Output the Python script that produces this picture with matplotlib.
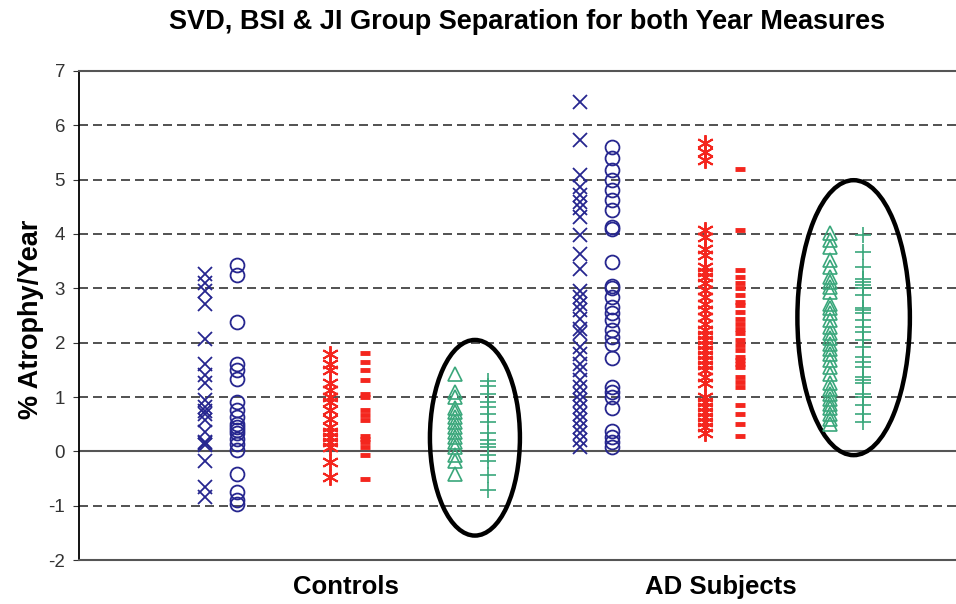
import matplotlib
matplotlib.use('AGG')
import matplotlib.pyplot as plt
from matplotlib.patches import Ellipse
import numpy as np

plt.rcParams['font.family'] = ['Liberation Sans', 'DejaVu Sans']
plt.rcParams['axes.unicode_minus'] = False

groups = ['Controls', 'AD Subjects']

# % atrophy/year, one list per column
ctl_svd_x = [3.26, 3.09, 2.95, 2.72, 2.07, 1.61, 1.40, 1.25, 0.94, 0.82, 0.69, 0.57,
             0.36, 0.17, 0.11, 0.15, 0.75, -0.17, -0.66, -0.84]
ctl_svd_o = [3.43, 3.24, 2.38, 1.61, 1.49, 1.34, 0.91, 0.76, 0.63, 0.51, 0.45, 0.39,
             0.33, 0.23, 0.14, 0.02, -0.41, -0.75, -0.90, -0.96]
ctl_bsi_a = [1.80, 1.60, 1.49, 1.25, 1.12, 1.00, 0.91, 0.76, 0.60, 0.45, 0.36, 0.26,
             0.17, 0.08, -0.20, -0.48]
ctl_bsi_d = [1.81, 1.65, 1.49, 1.32, 1.06, 1.00, 0.76, 0.66, 0.57, 0.29, 0.23, 0.17,
             0.08, -0.07, -0.50]
ctl_ji_t = [1.43, 1.09, 1.00, 0.79, 0.72, 0.63, 0.54, 0.45, 0.36, 0.26, 0.17, 0.08,
            -0.07, -0.17, -0.41]
ctl_ji_p = [1.30, 1.20, 1.06, 0.91, 0.82, 0.69, 0.54, 0.33, 0.20, 0.14, 0.08, -0.07,
            -0.17, -0.44, -0.72]

ad_svd_x = [6.43, 5.73, 5.08, 4.87, 4.71, 4.59, 4.47, 4.31, 3.98, 3.64, 3.36, 2.96,
            2.84, 2.72, 2.60, 2.44, 2.25, 2.17, 1.92, 1.80, 1.61, 1.49, 1.31, 1.18,
            1.06, 0.94, 0.82, 0.69, 0.57, 0.45, 0.33, 0.20, 0.08]
ad_svd_o = [5.60, 5.39, 5.17, 4.99, 4.81, 4.62, 4.44, 4.13, 4.10, 3.49, 3.05, 3.00,
            2.84, 2.66, 2.54, 2.41, 2.23, 2.11, 1.98, 1.71, 1.18, 1.09, 1.00, 0.79,
            0.38, 0.27, 0.17, 0.08]
ad_bsi_a = [5.67, 5.51, 5.36, 4.07, 3.95, 3.73, 3.61, 3.39, 3.30, 3.21, 3.09, 2.97,
            2.84, 2.72, 2.60, 2.47, 2.35, 2.23, 2.14, 2.04, 1.95, 1.86, 1.77, 1.68,
            1.58, 1.49, 1.37, 1.25, 1.00, 0.91, 0.82, 0.72, 0.63, 0.54, 0.45, 0.33]
ad_bsi_d = [5.19, 4.07, 3.33, 3.21, 3.09, 3.00, 2.87, 2.75, 2.69, 2.57, 2.44, 2.35,
            2.26, 2.17, 2.04, 1.95, 1.86, 1.74, 1.68, 1.61, 1.55, 1.37, 1.28, 1.18,
            0.85, 0.69, 0.51, 0.29]
ad_ji_t = [4.01, 3.89, 3.76, 3.52, 3.39, 3.21, 3.12, 3.03, 2.93, 2.72, 2.63, 2.54,
           2.41, 2.29, 2.17, 2.08, 1.98, 1.89, 1.80, 1.68, 1.55, 1.43, 1.25, 1.15,
           1.06, 0.97, 0.88, 0.79, 0.69, 0.60, 0.51]
ad_ji_p = [3.98, 3.67, 3.39, 3.18, 3.12, 3.06, 3.00, 2.87, 2.63, 2.60, 2.54, 2.41,
           2.29, 2.20, 2.04, 1.92, 1.74, 1.65, 1.55, 1.37, 1.31, 1.25, 1.06, 1.00,
           0.85, 0.69, 0.54]

blue = '#26268f'
red = '#f4261e'
green = '#3aa77b'

# (offset from group centre, marker, colour, size, edge width)
columns = [
    (-0.376, 'x', blue, 10, 1.3),
    (-0.290, 'o', blue, 10, 1.3),
    (-0.043, (6, 2, 0), red, 12, 1.4),
    (0.050, '_', red, 6.5, 3.5),
    (0.290, '^', green, 10, 1.2),
    (0.379, '+', green, 12, 1.2),
]
data = [
    [ctl_svd_x, ctl_svd_o, ctl_bsi_a, ctl_bsi_d, ctl_ji_t, ctl_ji_p],
    [ad_svd_x, ad_svd_o, ad_bsi_a, ad_bsi_d, ad_ji_t, ad_ji_p],
]

fig = plt.figure(figsize=(9.56, 6.04), dpi=100)
ax = fig.add_axes([0.0826, 0.0728, 0.9174, 0.8097])

for g, cols in enumerate(data, start=1):
    for (off, mk, c, ms, mew), vals in zip(columns, cols):
        xs = np.full(len(vals), g + off)
        if mk in ('o', '^'):
            ax.plot(xs, vals, ls='none', marker=mk, ms=ms, mfc='none', mec=c, mew=mew)
        else:
            ax.plot(xs, vals, ls='none', marker=mk, ms=ms, color=c, mew=mew)

# dashed gridlines, solid zero line
for y in range(-1, 7):
    if y == 0:
        ax.axhline(0, color='#555555', lw=1.5, zorder=0)
    else:
        ax.axhline(y, color='#333333', lw=1.2, dashes=(5.4, 3), zorder=0)

# hand-drawn ellipses around the JI columns
ax.add_patch(Ellipse((1.344, 0.25), 0.24, 3.6, fill=False, ec='black', lw=3.2))
ax.add_patch(Ellipse((2.354, 2.46), 0.30, 5.06, fill=False, ec='black', lw=3.2))

ax.set_xlim(0.288, 2.627)
ax.set_ylim(-2, 7)
ax.set_yticks(range(-2, 8))
ax.set_xticks([1, 2])
ax.set_xticklabels(groups, fontsize=18.5, fontweight='bold')
ax.tick_params(axis='x', length=0, pad=11)
ax.tick_params(axis='y', labelsize=13.5, length=4, pad=6, colors='#333333')
ax.spines['right'].set_visible(False)
ax.spines['top'].set_color('#555555')
ax.spines['bottom'].set_color('#555555')
ax.spines['top'].set_linewidth(1.5)
ax.spines['bottom'].set_linewidth(1.5)
ax.spines['left'].set_linewidth(1.3)
ax.set_ylabel('% Atrophy/Year', fontsize=19.5, fontweight='bold')
ax.yaxis.set_label_coords(-0.040, 0.493)

fig.text(0.551, 0.963, 'SVD, BSI & JI Group Separation for both Year Measures',
         ha='center', va='center', fontsize=19.5, fontweight='bold')

plt.savefig('out.png', dpi=100)
